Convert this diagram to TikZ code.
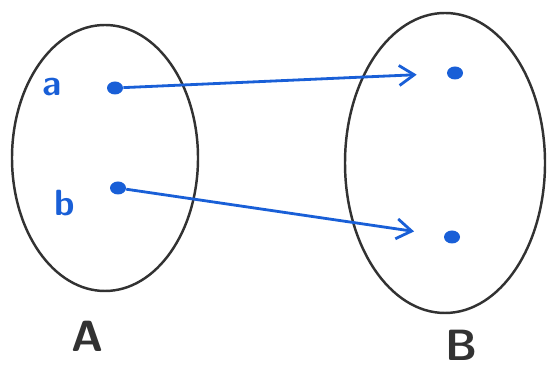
\documentclass[tikz,border=0pt]{standalone}
\usepackage{tikz}
\usetikzlibrary{positioning,arrows.meta,shapes.geometric}
\definecolor{penblue}{RGB}{25,95,215}
\definecolor{pengray}{RGB}{50,50,50}

\begin{document}
\begin{tikzpicture}[
  font=\sffamily\Large,
  elem/.style={ellipse, fill=penblue, draw=none, minimum width=3.2mm, minimum height=2.6mm, inner sep=0pt},
  setname/.style={text=pengray, font=\sffamily\bfseries\Huge},
  elemname/.style={text=penblue, font=\sffamily\bfseries\huge},
  map/.style={draw=penblue, line width=1.6pt, -{Straight Barb[length=3mm,width=4mm]}, shorten >=6mm},
  blob/.style={draw=pengray, line width=1.4pt}
]
\useasboundingbox (0,0) rectangle (11.12,7.46);

\draw[blob] (2.1,4.3) ellipse (1.86 and 2.66);
\draw[blob] (8.9,4.2) ellipse (2.0 and 3.0);

\node[elem] (a) at (2.3,5.7)  {};
\node[elem] (b) at (2.36,3.7) {};
\node[elem] (x) at (9.1,6.0)  {};
\node[elem] (y) at (9.04,2.72) {};

\node[elemname] (la) at (1.05,5.72) {a};
\node[elemname] (lb) at (1.3,3.4)   {b};

\draw[map] (a) -- (x);
\draw[map] (b) -- (y);

\node[setname] (A) at (1.76,0.74) {A};
\node[setname] (B) at (9.24,0.56) {B};
\end{tikzpicture}
\end{document}
